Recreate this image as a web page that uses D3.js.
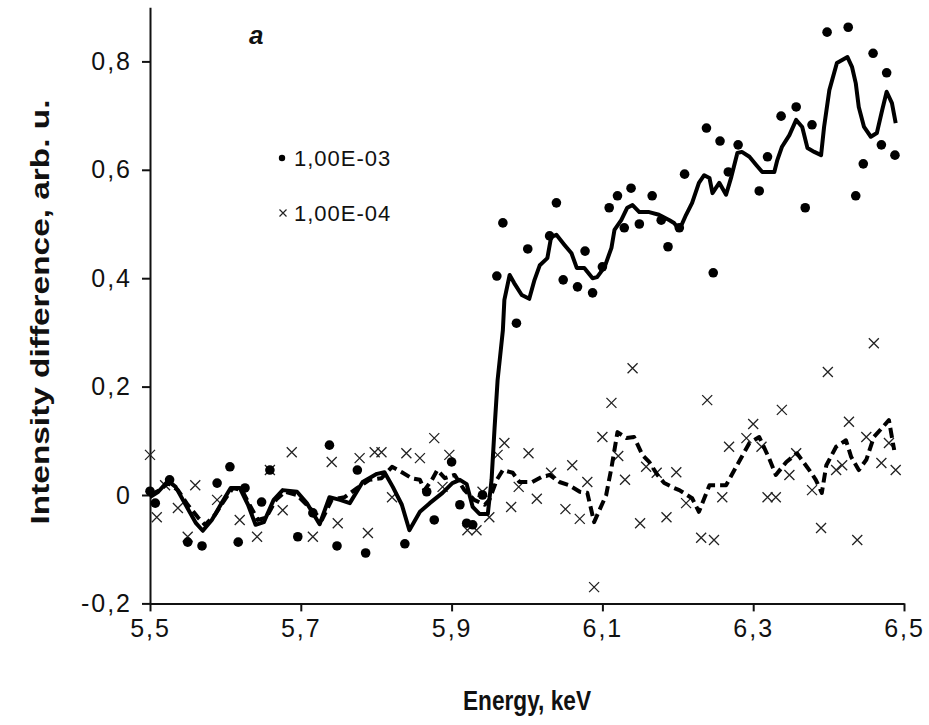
<!DOCTYPE html>
<html><head><meta charset="utf-8">
<script src="https://cdn.jsdelivr.net/npm/d3@7"></script>
<style>
html,body{margin:0;padding:0;background:#fff;}
svg{display:block;}
</style></head>
<body>
<svg id="chart" width="929" height="725"></svg>
<script>
// ---- data ----
const series1X = [5.500,5.507,5.526,5.550,5.569,5.589,5.606,5.617,5.626,5.648,5.659,5.696,5.716,5.738,5.748,5.775,5.786,5.838,5.867,5.877,5.900,5.911,5.920,5.928,5.941,
  5.960,5.968,5.986,6.001,6.030,6.039,6.048,6.067,6.077,6.087,6.100,6.109,6.120,6.129,6.138,6.149,6.166,6.178,6.187,6.202,6.209,6.238,6.247,6.256,6.267,6.280,6.308,6.319,6.337,6.357,6.369,6.378,6.398,6.426,6.436,6.446,6.459,6.470,6.477,6.488];
const series1Y = [0.007,-0.015,0.028,-0.087,-0.094,0.022,0.052,-0.087,0.013,-0.013,0.046,-0.077,-0.033,0.092,-0.094,0.046,-0.107,-0.090,0.006,-0.046,0.061,-0.018,-0.052,-0.055,0.000,
  0.404,0.502,0.317,0.454,0.478,0.539,0.397,0.384,0.450,0.373,0.421,0.530,0.552,0.493,0.566,0.500,0.552,0.507,0.458,0.493,0.592,0.677,0.410,0.653,0.596,0.646,0.561,0.624,0.699,0.716,0.530,0.683,0.854,0.863,0.552,0.611,0.815,0.646,0.779,0.627];

const series2X = [5.500,5.509,5.520,5.537,5.550,5.560,5.589,5.619,5.642,5.659,5.676,5.688,5.716,5.741,5.749,5.778,5.789,5.798,5.807,5.821,5.840,5.858,5.877,5.888,5.897,5.921,5.933,5.941,5.950,
  5.961,5.970,5.979,5.989,6.002,6.013,6.032,6.051,6.060,6.070,6.080,6.089,6.100,6.112,6.121,6.130,6.140,6.150,6.158,6.172,6.185,6.198,6.211,6.231,6.239,6.248,6.259,6.268,6.291,6.300,6.311,6.319,6.330,6.338,6.348,6.357,6.378,6.390,6.399,6.410,6.418,6.427,6.438,6.450,6.460,6.470,6.480,6.489];
const series2Y = [0.074,-0.041,0.018,-0.024,-0.077,0.018,-0.009,-0.046,-0.077,0.046,-0.028,0.079,-0.077,0.061,-0.052,0.068,-0.070,0.079,0.079,-0.004,0.077,0.068,0.105,0.015,0.074,-0.065,-0.065,0.006,-0.041,
  0.074,0.096,-0.022,0.015,0.077,-0.007,0.041,-0.026,0.055,-0.044,0.024,-0.170,0.107,0.170,0.072,0.028,0.234,-0.052,0.052,0.041,-0.041,0.042,-0.015,-0.079,0.175,-0.083,-0.004,0.089,0.105,0.131,0.089,-0.004,-0.004,0.157,0.037,0.077,0.009,-0.061,0.227,0.046,0.055,0.135,-0.083,0.107,0.280,0.059,0.096,0.046];

const smooth1X = [5.500,5.511,5.524,5.534,5.548,5.561,5.570,5.582,5.595,5.607,5.619,5.630,5.640,5.651,5.664,5.676,5.695,5.708,5.725,5.738,5.752,5.765,5.782,5.801,5.811,5.822,5.834,5.844,5.858,5.871,5.888,5.901,5.911,5.920,5.928,5.937,5.948,
  5.953,5.957,5.961,5.968,5.970,5.977,5.983,5.993,6.003,6.010,6.017,6.027,6.032,6.039,6.050,6.059,6.066,6.076,6.087,6.093,6.103,6.112,6.116,6.125,6.133,6.140,6.149,6.162,6.175,6.189,6.195,6.202,6.211,6.219,6.228,6.235,6.242,6.246,6.255,6.264,6.271,6.279,6.285,6.295,6.304,6.312,6.328,6.332,6.338,6.348,6.357,6.365,6.372,6.381,6.390,6.394,6.401,6.411,6.425,6.431,6.436,6.440,6.447,6.456,6.464,6.471,6.477,6.484,6.489];
const smooth1Y = [-0.004,0.006,0.026,0.015,-0.020,-0.052,-0.066,-0.046,-0.015,0.013,0.013,-0.018,-0.055,-0.050,-0.009,0.009,0.006,-0.015,-0.054,-0.004,-0.009,-0.015,0.024,0.039,0.042,0.015,-0.018,-0.065,-0.031,-0.015,0.004,0.022,0.028,0.020,-0.022,-0.035,-0.035,
  0.028,0.124,0.212,0.304,0.360,0.406,0.391,0.369,0.362,0.397,0.424,0.437,0.476,0.480,0.461,0.446,0.419,0.419,0.400,0.402,0.421,0.456,0.489,0.507,0.530,0.535,0.522,0.522,0.517,0.507,0.502,0.489,0.517,0.539,0.576,0.590,0.585,0.557,0.576,0.554,0.587,0.631,0.633,0.624,0.609,0.596,0.596,0.618,0.642,0.664,0.692,0.679,0.640,0.633,0.627,0.679,0.747,0.797,0.808,0.790,0.760,0.716,0.679,0.661,0.668,0.710,0.744,0.723,0.686];

const smooth2X = [5.500,5.513,5.524,5.537,5.550,5.564,5.573,5.586,5.599,5.610,5.622,5.632,5.643,5.654,5.667,5.679,5.695,5.712,5.728,5.741,5.758,5.775,5.791,5.807,5.821,5.834,5.847,5.858,5.864,5.874,5.881,5.891,5.904,5.917,5.930,5.944,5.950,
  5.960,5.968,5.981,5.990,6.007,6.019,6.030,6.043,6.056,6.070,6.080,6.089,6.105,6.112,6.120,6.132,6.142,6.153,6.162,6.173,6.182,6.195,6.202,6.219,6.228,6.242,6.264,6.281,6.295,6.308,6.321,6.330,6.344,6.358,6.377,6.383,6.391,6.397,6.410,6.423,6.430,6.440,6.450,6.460,6.480,6.487];
const smooth2Y = [0.000,0.009,0.022,0.009,-0.018,-0.042,-0.055,-0.037,-0.009,0.013,0.009,-0.018,-0.046,-0.042,-0.009,0.006,0.000,-0.024,-0.046,-0.009,-0.004,0.013,0.028,0.031,0.052,0.042,0.031,0.028,0.009,0.028,0.046,0.031,0.037,0.009,-0.009,-0.018,-0.009,
  0.028,0.046,0.041,0.024,0.024,0.033,0.037,0.024,0.018,0.006,0.004,-0.050,0.000,0.050,0.116,0.105,0.107,0.074,0.061,0.037,0.022,0.013,0.009,-0.006,-0.031,0.018,0.018,0.061,0.096,0.107,0.068,0.037,0.061,0.077,0.041,0.028,0.004,0.055,0.089,0.101,0.070,0.046,0.065,0.107,0.138,0.083];

const xTicks = [5.5,5.7,5.9,6.1,6.3,6.5];
const xTickLabels = ["5,5","5,7","5,9","6,1","6,3","6,5"];
const yTicks = [-0.2,0,0.2,0.4,0.6,0.8];
const yTickLabels = ["-0,2","0","0,2","0,4","0,6","0,8"];
const legendLabels = ["1,00E-03","1,00E-04"];
const xTitle = "Energy, keV";
const yTitle = "Intensity difference, arb. u.";
const panelLabel = "a";

// ---- drawing ----
const svg = d3.select("#chart");
const x = d3.scaleLinear().domain([5.5, 6.5]).range([150, 904]);
const y = d3.scaleLinear().domain([-0.2, 0.9]).range([603.4, 7.2]);

const fontTick = '"Liberation Sans", Arial, sans-serif';
const fontTitle = '"Liberation Sans", Arial, sans-serif';

// axes
const xAxis = svg.append("g").attr("transform", `translate(0,${y(-0.2)})`)
  .call(d3.axisBottom(x).tickValues(xTicks).tickFormat((d,i)=>xTickLabels[i]).tickSize(8).tickSizeOuter(0).tickPadding(8));
const yAxis = svg.append("g").attr("transform", `translate(${x(5.5)},0)`)
  .call(d3.axisLeft(y).tickValues(yTicks).tickFormat((d,i)=>yTickLabels[i]).tickSize(8).tickSizeOuter(0).tickPadding(10));
[xAxis, yAxis].forEach(g => {
  g.attr("font-size", 25).attr("font-family", fontTick);
  g.selectAll("path.domain").attr("stroke", "#111").attr("stroke-width", 2);
  g.selectAll(".tick line").attr("stroke", "#111").attr("stroke-width", 2);
  g.selectAll(".tick text").attr("font-family", fontTick).attr("font-size", 25).attr("fill", "#111").attr("letter-spacing", 2);
});

const pts1 = series1X.map((v,i)=>[v, series1Y[i]]);
const pts2 = series2X.map((v,i)=>[v, series2Y[i]]);
const sm1 = smooth1X.map((v,i)=>[v, smooth1Y[i]]);
const sm2 = smooth2X.map((v,i)=>[v, smooth2Y[i]]);

const line = d3.line().x(d=>x(d[0])).y(d=>y(d[1]));

// series 2 crosses
const cs = 5;
svg.append("g").selectAll("path").data(pts2).join("path")
  .attr("d", d => { const cx = x(d[0]), cy = y(d[1]); return `M${cx-cs},${cy-cs}L${cx+cs},${cy+cs}M${cx-cs},${cy+cs}L${cx+cs},${cy-cs}`; })
  .attr("stroke", "#222").attr("stroke-width", 1.3).attr("fill", "none");

// smoothed lines
svg.append("path").datum(sm2).attr("d", line).attr("fill", "none")
  .attr("stroke", "#000").attr("stroke-width", 4).attr("stroke-dasharray", "10,5").attr("stroke-linejoin", "round");
svg.append("path").datum(sm1).attr("d", line).attr("fill", "none")
  .attr("stroke", "#000").attr("stroke-width", 4).attr("stroke-linejoin", "round");

// series 1 dots
svg.append("g").selectAll("circle").data(pts1).join("circle")
  .attr("cx", d=>x(d[0])).attr("cy", d=>y(d[1])).attr("r", 4.8).attr("fill", "#000");

// titles
svg.append("text").attr("x", 527).attr("y", 710).attr("text-anchor", "middle")
  .attr("font-family", fontTitle).attr("font-weight", "bold").attr("font-size", 27)
  .attr("textLength", 128).attr("lengthAdjust", "spacingAndGlyphs").attr("fill", "#111").text(xTitle);
svg.append("text").attr("transform", "translate(49,312) rotate(-90)").attr("text-anchor", "middle")
  .attr("font-family", fontTitle).attr("font-weight", "bold").attr("font-size", 26)
  .attr("textLength", 425).attr("lengthAdjust", "spacingAndGlyphs").attr("fill", "#111").text(yTitle);
svg.append("text").attr("x", 249).attr("y", 44)
  .attr("font-family", fontTick).attr("font-weight", "bold").attr("font-style", "italic").attr("font-size", 26).attr("fill", "#111").text(panelLabel);

// legend
const lg = svg.append("g");
lg.append("circle").attr("cx", 282).attr("cy", 158).attr("r", 3.2).attr("fill", "#000");
lg.append("text").attr("x", 294).attr("y", 166).attr("font-family", fontTick).attr("font-size", 22).attr("letter-spacing", 1).attr("fill", "#111").text(legendLabels[0]);
const lx = 283, ly = 213, ls = 3.5;
lg.append("path").attr("d", `M${lx-ls},${ly-ls}L${lx+ls},${ly+ls}M${lx-ls},${ly+ls}L${lx+ls},${ly-ls}`).attr("stroke", "#222").attr("stroke-width", 1.2);
lg.append("text").attr("x", 294).attr("y", 221).attr("font-family", fontTick).attr("font-size", 22).attr("letter-spacing", 1).attr("fill", "#111").text(legendLabels[1]);
</script>
</body></html>
